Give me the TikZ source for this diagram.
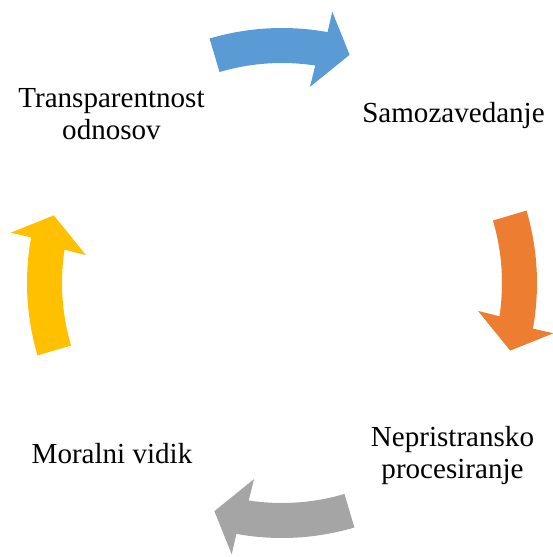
\documentclass[tikz,border=0pt]{standalone}
\usepackage{fontspec}
\setmainfont{Liberation Serif}
\definecolor{cycblue}{HTML}{5B9BD5}
\definecolor{cycorange}{HTML}{ED7D31}
\definecolor{cycgray}{HTML}{A5A5A5}
\definecolor{cycyellow}{HTML}{FFC000}
\tikzset{
  label/.style={font=\fontsize{21.8}{24}\selectfont, inner sep=0pt, align=center, anchor=base},
}
% one curved block arrow of the cycle, centred on the top of the ring,
% running clockwise; #1 = rotation, #2 = fill colour
\newcommand\cyclearrow[2]{%
  \begin{scope}[rotate=#1]
    \fill[#2] (106.5:220) -- (106.5:255)
      arc[start angle=106.5, end angle=79.7, radius=255]
      -- (79.5:276) -- (73.5:238) -- (81.9:198) -- (81.3:220)
      arc[start angle=81.3, end angle=106.5, radius=220] -- cycle;
  \end{scope}}
\begin{document}
\begin{tikzpicture}[x=0.75pt, y=0.75pt]
  \useasboundingbox (-282,-274) rectangle (271,283);
  \cyclearrow{0}{cycblue}
  \cyclearrow{-90}{cycorange}
  \cyclearrow{-180}{cycgray}
  \cyclearrow{90}{cycyellow}
  % two-line labels: the base anchor sits on the last line
  \node[label] (trans) at (-170.5,143) {Transparentnost\\odnosov};
  \node[label] (samo) at (171.5,160) {Samozavedanje};
  \node[label] (nepri) at (170.5,-195) {Nepristransko\\procesiranje};
  \node[label] (moral) at (-170,-180) {Moralni vidik};
\end{tikzpicture}
\end{document}
